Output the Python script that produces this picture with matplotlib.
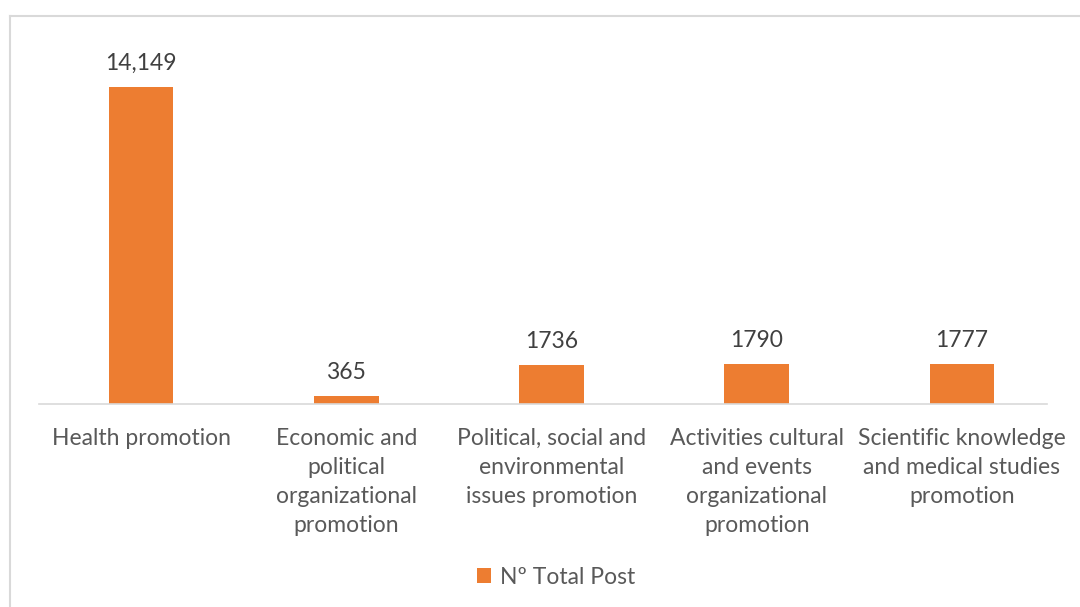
import matplotlib.pyplot as plt
from matplotlib.lines import Line2D

categorias = [
    "Health promotion",
    "Economic and\npolitical\norganizational\npromotion",
    "Political, social and\nenvironmental\nissues promotion",
    "Activities cultural\nand events\norganizational\npromotion",
    "Scientific knowledge\nand medical studies\npromotion",
]
total_post = [14149, 365, 1736, 1790, 1777]
etiquetas = ["14,149", "365", "1736", "1790", "1777"]

plt.rcParams["font.family"] = ["Lato", "DejaVu Sans"]

W, H = 1080, 607
fig = plt.figure(figsize=(W / 100, H / 100), dpi=100)

# borde gris del area del grafico (cortado a la derecha y abajo)
borde = "#d9d9d9"
fig.add_artist(Line2D([9.5 / W, 1.0], [1 - 15.5 / H, 1 - 15.5 / H], color=borde, lw=1.5, transform=fig.transFigure))
fig.add_artist(Line2D([9.5 / W, 9.5 / W], [0, 1 - 15.5 / H], color=borde, lw=1.5, transform=fig.transFigure))

izq, der = 38.5, 1064.5
ax = fig.add_axes([izq / W, (H - 404) / H, (der - izq) / W, (404 - 46) / H])
x = range(len(categorias))
barras = ax.bar(x, total_post, width=0.315, color="#ED7D31", label="Nº Total Post", zorder=2)

ax.set_xlim(-0.5, len(categorias) - 0.5)
ax.set_ylim(0, 16000)

# linea base (termina antes del borde derecho)
ax.axhline(0, xmin=0, xmax=(1047 - izq) / (der - izq), color="#d9d9d9", lw=1.2, zorder=3, clip_on=False)

for xi, v, t in zip(x, total_post, etiquetas):
    ax.annotate(t, (xi, v), xytext=(0, 9.5), textcoords="offset points",
                ha="center", va="bottom", fontsize=16.5, color="#404040")

ax.set_xticks(list(x))
ax.set_xticklabels(categorias, fontsize=16.5, color="#595959", linespacing=1.48, va="top")
ax.tick_params(axis="x", length=0, pad=17)
ax.set_yticks([])
for s in ax.spines.values():
    s.set_visible(False)

fig.legend(handles=[barras], loc="center", bbox_to_anchor=(556 / W, 1 - 577 / H),
           frameon=False, fontsize=16.5, labelcolor="#595959",
           handlelength=0.6, handleheight=0.6, handletextpad=0.4)

fig.savefig("out.png", dpi=100)
